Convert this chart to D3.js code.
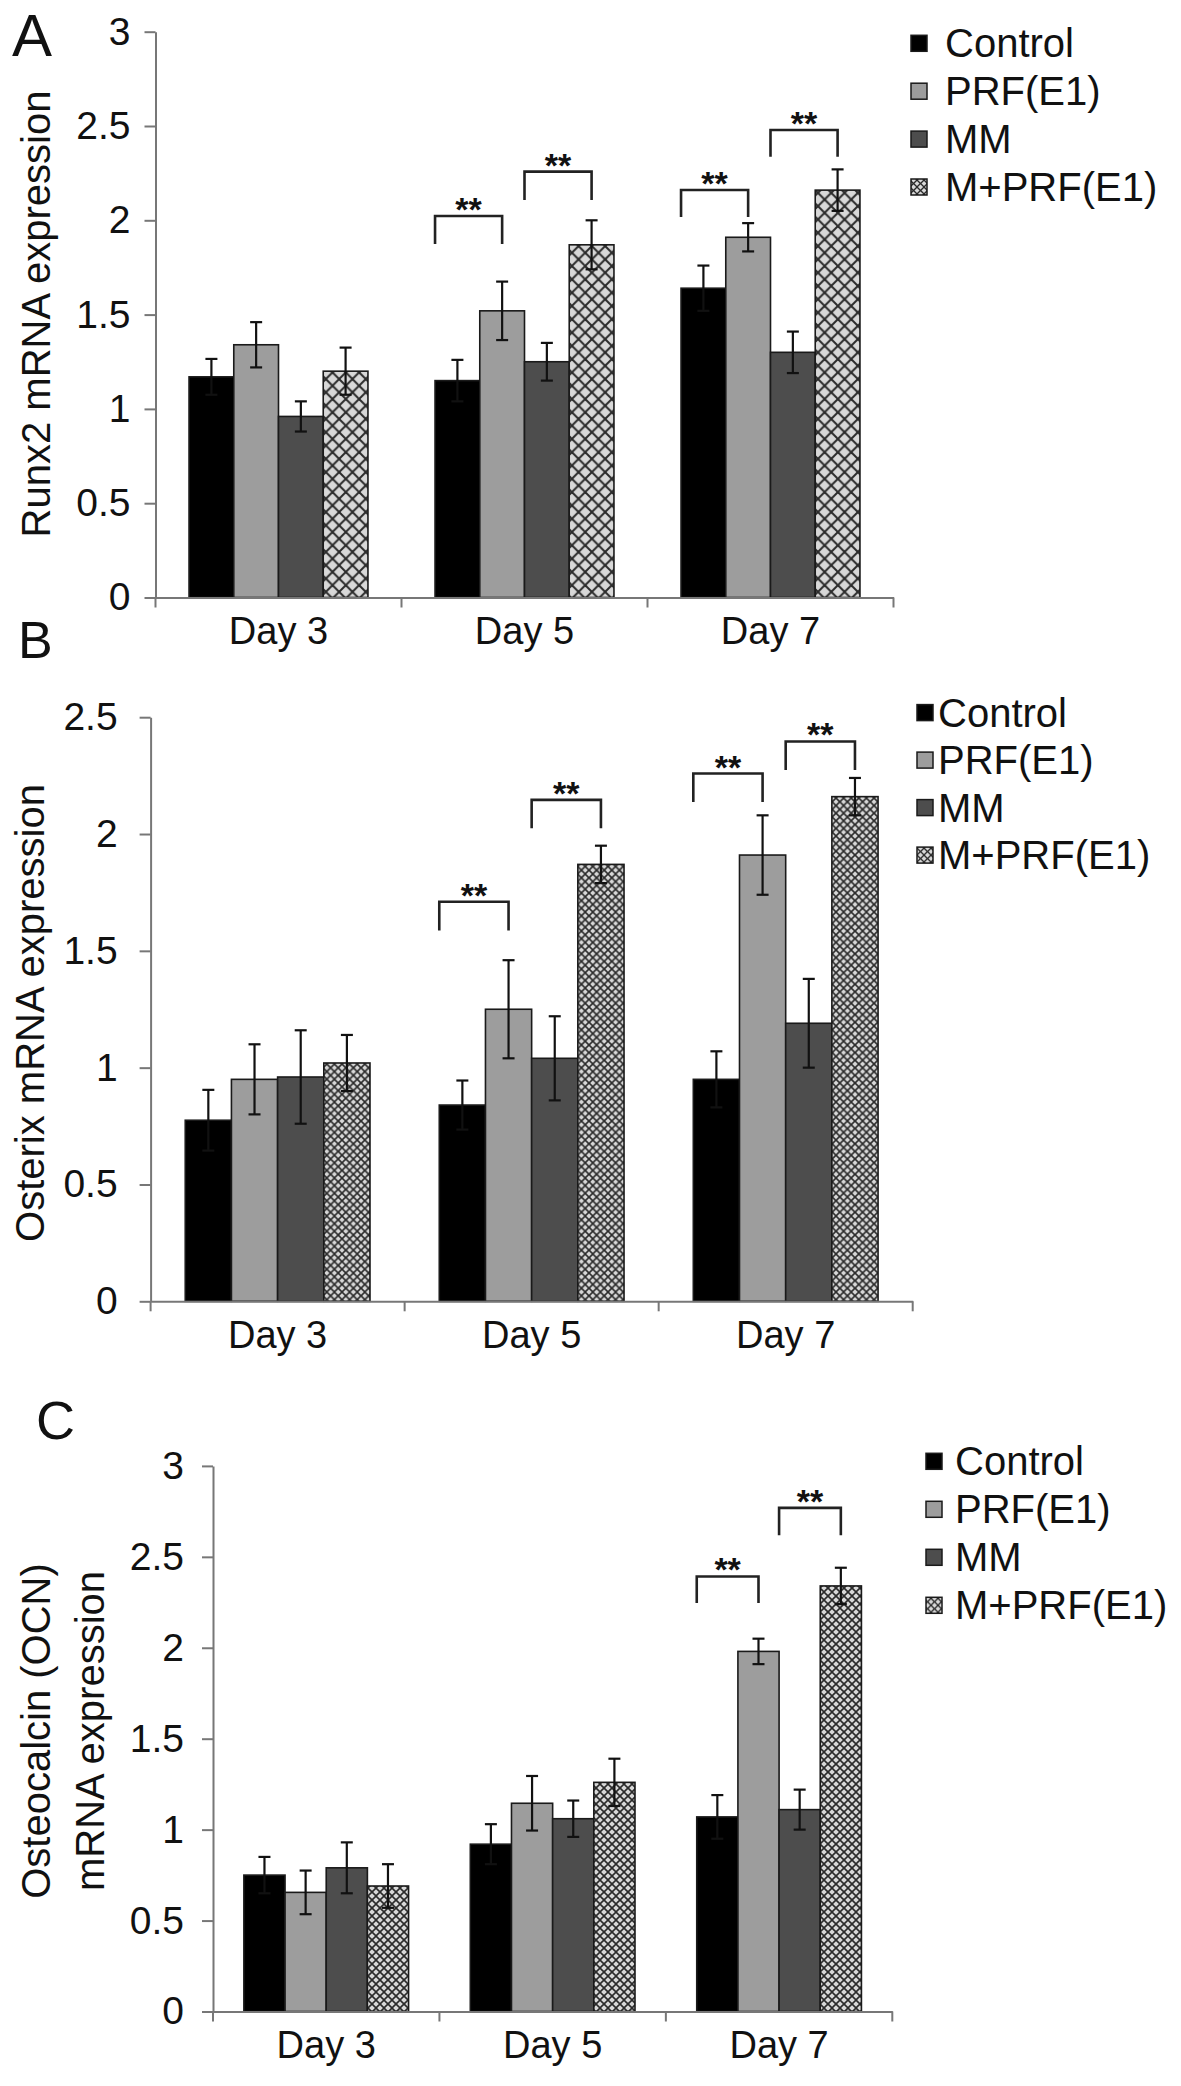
<!DOCTYPE html>
<html><head><meta charset="utf-8">
<script src="https://cdn.jsdelivr.net/npm/d3@7"></script>
<style>
html,body{margin:0;padding:0;background:#fff;}
svg text{font-family:"Liberation Sans",Arial,Helvetica,sans-serif;fill:#111;}
</style></head><body>
<svg id="chart" width="1181" height="2086"></svg>
<script>
// ---------- data ----------
const days = ["Day 3", "Day 5", "Day 7"];
const groups = ["Control", "PRF(E1)", "MM", "M+PRF(E1)"];

const yTicksA = [0, 0.5, 1, 1.5, 2, 2.5, 3];
const yTicksB = [0, 0.5, 1, 1.5, 2, 2.5];
const yTicksC = [0, 0.5, 1, 1.5, 2, 2.5, 3];

// rows = days, columns = groups
const runx2Mean = [[1.17, 1.34, 0.96, 1.20], [1.15, 1.52, 1.25, 1.87], [1.64, 1.91, 1.30, 2.16]];
const runx2Err  = [[0.095, 0.12, 0.08, 0.125], [0.11, 0.155, 0.10, 0.13], [0.12, 0.075, 0.11, 0.11]];

const osxMean = [[0.775, 0.95, 0.96, 1.02], [0.84, 1.25, 1.04, 1.87], [0.95, 1.91, 1.19, 2.16]];
const osxErr  = [[0.13, 0.15, 0.20, 0.12], [0.105, 0.21, 0.18, 0.08], [0.12, 0.17, 0.19, 0.08]];

const ocnMean = [[0.75, 0.655, 0.79, 0.69], [0.92, 1.145, 1.06, 1.26], [1.07, 1.98, 1.11, 2.34]];
const ocnErr  = [[0.10, 0.12, 0.14, 0.12], [0.11, 0.15, 0.10, 0.13], [0.12, 0.07, 0.11, 0.10]];

// significance brackets: [day index, from group, to group, bar level, leg end level]
const runx2Sig = [[1, 0, 1, 2.023, 1.874], [1, 2, 3, 2.258, 2.108], [2, 0, 1, 2.161, 2.017], [2, 2, 3, 2.479, 2.337]];
const osxSig   = [[1, 0, 1, 1.71, 1.587], [1, 2, 3, 2.146, 2.025], [2, 0, 1, 2.259, 2.137], [2, 2, 3, 2.396, 2.274]];
const ocnSig   = [[2, 0, 1, 2.392, 2.246], [2, 2, 3, 2.769, 2.618]];
const sigLabel = "**";

// ---------- layout / style ----------
const svg = d3.select("#chart");
const defs = svg.append("defs");
const fills = ["#000000", "#9d9d9d", "#4d4d4d", null];

function makeHatch(id, p, sw) {
  const pat = defs.append("pattern").attr("id", id)
    .attr("patternUnits", "userSpaceOnUse").attr("width", p).attr("height", p);
  pat.append("rect").attr("width", p).attr("height", p).attr("fill", "#d8d8d8");
  const g = pat.append("g").attr("stroke", "#2b2b2b").attr("stroke-width", sw);
  g.append("line").attr("x1", -1).attr("y1", -1).attr("x2", p + 1).attr("y2", p + 1);
  g.append("line").attr("x1", p + 1).attr("y1", -1).attr("x2", -1).attr("y2", p + 1);
}
makeHatch("hatchA", 13.3, 2.0);
makeHatch("hatchB", 7.6, 1.6);
makeHatch("hatchC", 8.0, 1.6);
makeHatch("hatchL", 7.0, 1.3);

const panels = [
  { letter: "A", letterSize: 60, letterX: 12, letterY: 56,
    title: ["Runx2 mRNA expression"], titleX: [50], titleY: 314,
    mean: runx2Mean, err: runx2Err, sig: runx2Sig, ticks: yTicksA, ymax: 3,
    x0: 155.5, x1: 893.5, yTop: 31.7, yBot: 597.5, hatch: "hatchA", labelGap: 14,
    legX: 911, legTextX: 945, legY0: 43.3, legStep: 47.9 },
  { letter: "B", letterSize: 52, letterX: 18, letterY: 658,
    title: ["Osterix mRNA expression"], titleX: [44], titleY: 1013,
    mean: osxMean, err: osxErr, sig: osxSig, ticks: yTicksB, ymax: 2.5,
    x0: 150.6, x1: 912.7, yTop: 717.2, yBot: 1301.3, hatch: "hatchB", labelGap: 22,
    legX: 917, legTextX: 938, legY0: 712.6, legStep: 47.5 },
  { letter: "C", letterSize: 54, letterX: 36, letterY: 1439,
    title: ["Osteocalcin (OCN)", "mRNA expression"], titleX: [50, 104], titleY: 1731,
    mean: ocnMean, err: ocnErr, sig: ocnSig, ticks: yTicksC, ymax: 3,
    x0: 213, x1: 892.3, yTop: 1465.9, yBot: 2011.5, hatch: "hatchC", labelGap: 18,
    legX: 926, legTextX: 955, legY0: 1461.3, legStep: 48 }
];

const axisColor = "#777";

panels.forEach(P => {
  const g = svg.append("g");
  const x = d3.scaleBand().domain(days).range([P.x0, P.x1]).paddingInner(0).paddingOuter(0);
  const xi = d3.scaleBand().domain(groups).range([0, x.bandwidth()]).paddingInner(0).paddingOuter(0.75);
  const y = d3.scaleLinear().domain([0, P.ymax]).range([P.yBot, P.yTop]);

  // panel letter
  g.append("text").attr("x", P.letterX).attr("y", P.letterY)
    .attr("font-size", P.letterSize).text(P.letter);

  // y title
  P.title.forEach((t, i) => {
    g.append("text")
      .attr("transform", `translate(${P.titleX[i]},${P.titleY}) rotate(-90)`)
      .attr("text-anchor", "middle").attr("font-size", 40).text(t);
  });

  // bars
  const rows = [];
  days.forEach((d, di) => groups.forEach((gr, gi) => rows.push({ d, di, gr, gi, v: P.mean[di][gi], e: P.err[di][gi] })));
  g.selectAll("rect.bar").data(rows).enter().append("rect")
    .attr("class", "bar")
    .attr("x", r => x(r.d) + xi(r.gr))
    .attr("y", r => y(r.v))
    .attr("width", xi.bandwidth())
    .attr("height", r => y(0) - y(r.v))
    .attr("fill", r => r.gi === 3 ? `url(#${P.hatch})` : fills[r.gi])
    .attr("stroke", "#1a1a1a").attr("stroke-width", 1.6);

  // error bars
  const cap = 6;
  const eb = g.selectAll("g.eb").data(rows).enter().append("g")
    .attr("stroke", "#111").attr("stroke-width", 2.2);
  eb.append("line")
    .attr("x1", r => x(r.d) + xi(r.gr) + xi.bandwidth() / 2)
    .attr("x2", r => x(r.d) + xi(r.gr) + xi.bandwidth() / 2)
    .attr("y1", r => y(r.v + r.e)).attr("y2", r => y(r.v - r.e));
  [1, -1].forEach(s => {
    eb.append("line")
      .attr("x1", r => x(r.d) + xi(r.gr) + xi.bandwidth() / 2 - cap)
      .attr("x2", r => x(r.d) + xi(r.gr) + xi.bandwidth() / 2 + cap)
      .attr("y1", r => y(r.v + s * r.e)).attr("y2", r => y(r.v + s * r.e));
  });

  // y axis
  const yAxis = d3.axisLeft(y).tickValues(P.ticks).tickSize(11).tickSizeOuter(0)
    .tickPadding(P.labelGap).tickFormat(d3.format("~g"));
  const ya = g.append("g").attr("transform", `translate(${P.x0},0)`).call(yAxis);
  ya.select(".domain").attr("stroke", axisColor).attr("stroke-width", 2);
  ya.selectAll(".tick line").attr("stroke", axisColor).attr("stroke-width", 2);
  ya.selectAll(".tick text").attr("font-size", 39).attr("fill", "#111")
    .attr("font-family", "Liberation Sans, Arial, sans-serif");

  // x axis
  const xAxis = d3.axisBottom(x).tickSize(0).tickSizeOuter(0).tickPadding(20);
  const xa = g.append("g").attr("transform", `translate(0,${P.yBot})`).call(xAxis);
  xa.select(".domain").attr("stroke", axisColor).attr("stroke-width", 2);
  xa.selectAll(".tick text").attr("font-size", 38).attr("fill", "#111")
    .attr("font-family", "Liberation Sans, Arial, sans-serif");
  const bounds = days.map(d => x(d)).concat([x(days[days.length - 1]) + x.bandwidth()]);
  xa.selectAll("line.bt").data(bounds).enter().append("line")
    .attr("x1", b => b).attr("x2", b => b).attr("y1", 0).attr("y2", 10)
    .attr("stroke", axisColor).attr("stroke-width", 2);

  // significance brackets
  P.sig.forEach(s => {
    const d = days[s[0]];
    const xl = x(d) + xi(groups[s[1]]);
    const xr = x(d) + xi(groups[s[2]]) + xi.bandwidth() / 2;
    g.append("path")
      .attr("d", `M${xl},${y(s[4])}V${y(s[3])}H${xr}V${y(s[4])}`)
      .attr("fill", "none").attr("stroke", "#222").attr("stroke-width", 2.6);
    g.append("text").attr("x", (xl + xr) / 2).attr("y", y(s[3]) + 5)
      .attr("text-anchor", "middle").attr("font-size", 34).attr("font-weight", "bold")
      .text(sigLabel);
  });

  // legend
  const leg = g.selectAll("g.leg").data(groups).enter().append("g")
    .attr("transform", (gr, i) => `translate(0,${P.legY0 + i * P.legStep})`);
  leg.append("rect").attr("x", P.legX).attr("y", -8).attr("width", 16).attr("height", 16)
    .attr("fill", (gr, i) => i === 3 ? "url(#hatchL)" : fills[i])
    .attr("stroke", "#1a1a1a").attr("stroke-width", 1.5);
  leg.append("text").attr("x", P.legTextX).attr("y", 14)
    .attr("font-size", 40).text(gr => gr);
});
</script>
</body></html>
